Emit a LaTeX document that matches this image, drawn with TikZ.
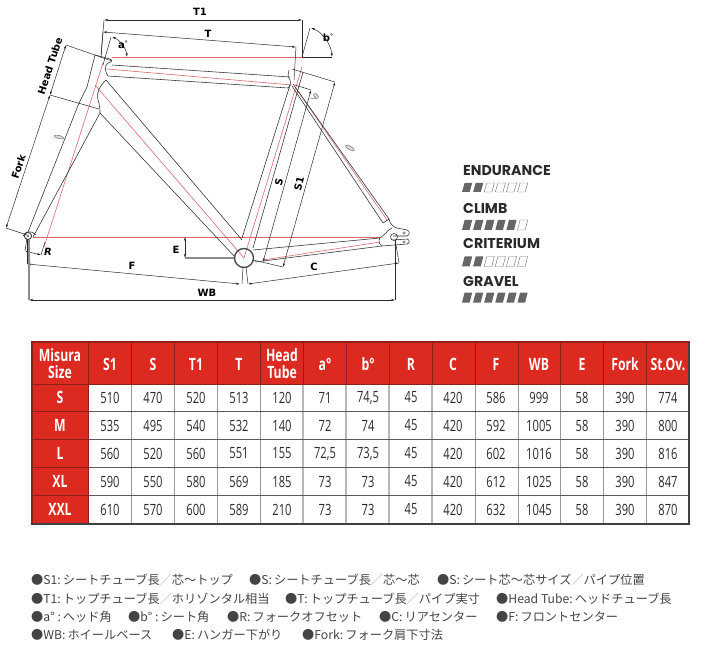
\documentclass[tikz,border=0pt]{standalone}
\usepackage{fontspec}
\setmainfont{Open Sans}
\newfontfamily\tblfont[FakeStretch=0.72]{Open Sans}
\newfontfamily\labfont{DejaVu Sans}
\newfontfamily\gaugefont{Poppins}
\newfontfamily\jpfont{Noto Sans CJK JP}
\usetikzlibrary{arrows.meta}
\definecolor{ink}{HTML}{2A2A2A}
\definecolor{redline}{HTML}{D9696B}
\definecolor{tblred}{HTML}{DC2A20}
\definecolor{tbldark}{HTML}{8E1F1A}
\definecolor{barfill}{HTML}{666666}
\definecolor{jptext}{HTML}{444444}
\tikzset{
  x=1pt,y=-1pt,
  frame/.style={draw=ink,line width=0.55pt,line join=round},
  axis/.style={draw=redline,line width=0.6pt},
  dim/.style={draw=ink,line width=0.5pt},
  arr/.style={dim,{Latex[length=3.5pt,width=2.2pt]}-{Latex[length=3.5pt,width=2.2pt]}},
  greyx/.style={draw=black!45,line width=1.1pt},
  lab/.style={font=\labfont\bfseries\fontsize{10}{11}\selectfont,inner sep=0pt,text=black},
  gauge/.style={font=\gaugefont\bfseries\fontsize{14.2}{15}\selectfont,inner sep=0pt,anchor=west,text=ink},
  hd/.style={font=\tblfont\bfseries\fontsize{17}{16.5}\selectfont,text=white,inner sep=0pt,align=center},
  cell/.style={font=\tblfont\fontsize{15.5}{16}\selectfont,text=ink,inner sep=0pt},
  jp/.style={font=\jpfont\fontsize{12.2}{13}\selectfont,text=jptext,inner sep=0pt,anchor=west},
  bolt/.style={draw=black!60,fill=black!15,line width=0.4pt},
}
\newcommand{\jsl}{\textcolor{black!30}{／}}
\newcommand{\gaugebar}[3]{% y top, y bottom, filled
  \foreach \k in {1,...,6}{
    \pgfmathsetmacro{\xa}{462+(\k-1)*11.1}
    \ifnum\k>#3\relax
      \draw[black!55,line width=0.45pt,fill=white] (\xa,#2) -- (\xa+2.6,#1) -- (\xa+10.2,#1) -- (\xa+7.6,#2) -- cycle;
    \else
      \fill[barfill] (\xa,#2) -- (\xa+2.6,#1) -- (\xa+10.2,#1) -- (\xa+7.6,#2) -- cycle;
    \fi
  }
}
\newcommand{\tablerow}[4]{% name, y, label, values
  \node[hd] (row#1) at (60,#2) {#3};
  \foreach \v [count=\c] in {#4}{
    \pgfmathsetmacro{\cx}{{110,153,196,239,282,325,368,411,453,496,539,582,625,668}[\c-1]}
    \node[cell] (r#1c\c) at (\cx,#2) {\v};
  }
}
\begin{document}
\begin{tikzpicture}
\useasboundingbox (0,0) rectangle (701,652);
% ---------- frame: centre lines
\draw[axis] (112,57) -- (302,57);
\draw[axis] (103,63) -- (44,247);
\draw[axis] (33,237) -- (380,237);
\draw[axis] (107,69) -- (292,85);
\draw[axis] (95,85) -- (244,258);
\draw[axis] (302,67) -- (244,258);
\draw[axis] (295,87) -- (387,220);
\draw[axis] (263,260) -- (380,242);
% ---------- frame: tubes
\draw[frame] (95,55) -- (87,87) -- (79,103) -- (28,232);
\draw[frame] (95,55) -- (110,59) .. controls (113,60) and (112,62) .. (108,63) .. controls (104,66) and (105,72) .. (108,76);
\draw[frame] (112,65) -- (290,77);
\draw[frame] (108,76) -- (288,88);
\draw[frame] (106,80) .. controls (100,86) and (96,92) .. (98,100) .. controls (100,106) and (100,110) .. (100,113) -- (33,237);
\draw[frame] (106,80) -- (242,240);
\draw[frame] (100,113) -- (235,257);
\draw[frame] (289,70) -- (288,76) -- (290,80) .. controls (291,84) and (290,87) .. (288,88);
\draw[frame] (290,85) -- (242,238);
\draw[frame] (303,72) -- (253,248);
\draw[frame] (293,84) -- (389,219);
\draw[frame] (292,86) -- (383,223);
\draw[frame] (383,223) -- (389,219);
\draw[frame] (253,250) -- (380,238);
\draw[frame] (255,262) -- (382,246);
% dropout
\draw[frame] (389,219) .. controls (390,224) and (393,227) .. (397,228) -- (407,230) .. controls (410,231) and (410,235) .. (407,236) -- (393,236);
\draw[frame] (393,240) -- (407,239) .. controls (410,240) and (410,243) .. (407,244) -- (382,246);
\draw[frame] (380,238) .. controls (378,241) and (379,244) .. (382,246);
\draw[frame] (380,238) -- (386,233) .. controls (388,230) and (390,229) .. (392,228);
\draw[frame] (394,237) circle (3.5);
\draw[frame,draw=black!60] (404,233) circle (1.3);
\draw[frame,draw=black!60] (404,242) circle (1.3);
% BB
\draw[greyx] (185,258) -- (234,258);
\draw[draw=black!70,line width=1.4pt] (244,258) circle (9.5);
% fork tip
\draw[draw=ink,line width=0.8pt] (28,236) circle (3.6);
\draw[frame] (23,236) .. controls (25,231) and (32,230) .. (36,235);
\draw[frame,black!60] (28,236) circle (1.2);
% bolts
\draw[bolt,rotate around={-15:(59,137)}] (59,137) ellipse (5 and 1.6);
\draw[bolt,rotate around={-45:(316,96)}] (316,96) ellipse (3 and 1.8);
\draw[frame,draw=black!55] (310,98) -- (316,99);
\draw[bolt,rotate around={-30:(350,148)}] (350,148) ellipse (5 and 1.8);
% ---------- dimensions
\coordinate (t1l) at (104,20); \coordinate (t1r) at (302,20);
\draw[arr] (t1l) -- (t1r);
\draw[dim] (t1l) -- (101,55);
\draw[dim] (t1r) -- (302,57) -- (332,57);
\coordinate (tl) at (103,32); \coordinate (tr) at (296,47);
\draw[arr] (tl) -- (tr);
\draw[dim] (tl) -- (101,58);
\draw[dim] (tr) -- (294,80);
% a angle
\draw[dim] (103,65) -- (111,37);
\draw[arr] (112,37) .. controls (120,40) and (126,48) .. (127,57);
% b angle
\draw[dim] (302,57) -- (310,28);
\draw[arr] (311,28) .. controls (322,32) and (331,44) .. (332,57);
% head tube / fork
\coordinate (ht) at (66,45); \coordinate (hb) at (50,95); \coordinate (fb) at (6,228);
\draw[arr] (ht) -- (hb);
\draw[arr] (hb) -- (fb);
\draw[dim] (ht) -- (112,61);
\draw[dim] (hb) -- (99,109);
\draw[dim] (fb) -- (27,235);
% S, S1
\coordinate (ss) at (311,90); \coordinate (sb) at (263,262);
\draw[arr] (ss) -- (sb);
\draw[dim] (295,85) -- (ss);
\coordinate (s1t) at (335,82); \coordinate (s1b) at (283,267);
\draw[arr] (s1t) -- (s1b);
\draw[dim] (292,69) -- (s1t);
\draw[dim] (253,260) -- (s1b);
% R
\coordinate (ra) at (25,251); \coordinate (rb) at (41,255);
\draw[arr] (ra) -- (rb);
\draw[dim] (ra) -- (27,238);
\draw[dim] (rb) -- (45,242);
% E
\coordinate (ea) at (185,237); \coordinate (eb) at (185,258);
\draw[arr] (ea) -- (eb);
% F, C, WB
\coordinate (fa) at (27,264); \coordinate (fz) at (240,284);
\draw[arr] (fa) -- (fz);
\draw[dim] (27,240) -- (fa);
\draw[dim] (243,267) -- (242,284);
\coordinate (ca) at (248,284); \coordinate (cz) at (399,263);
\draw[arr] (ca) -- (cz);
\draw[dim] (246,267) -- (ca);
\draw[dim] (cz) -- (396,245);
\coordinate (wa) at (29,300); \coordinate (wz) at (395,300);
\draw[arr] (wa) -- (wz);
\draw[greyx] (29,240) -- (wa);
\draw[dim] (395,240) -- (wz);
% ---------- frame labels
\node[lab] (lT1) at (200,12) {T1};
\node[lab] (lT) at (208,34) {T};
\node[lab] (la) at (123,45) {a\raisebox{3pt}{\fontsize{6}{6}\selectfont°}};
\node[lab] (lb) at (328,38) {b\raisebox{3pt}{\fontsize{6}{6}\selectfont°}};
\node[lab,rotate=72] (lHT) at (50,66) {Head Tube};
\node[lab,rotate=72] (lF) at (18.5,167) {Fork};
\node[lab,rotate=76] (lS) at (279,182) {S};
\node[lab,rotate=76] (lS1) at (299,184) {S1};
\node[lab,font=\labfont\bfseries\itshape\fontsize{10}{11}\selectfont] (lR) at (48,252) {R};
\node[lab] (lE) at (176,250) {E};
\node[lab] (lFF) at (132,266) {F};
\node[lab] (lC) at (314,267) {C};
\node[lab] (lWB) at (207,293) {WB};
% ---------- gauges
\node[gauge] (g1) at (463,171) {ENDURANCE};
\gaugebar{183}{192}{2}
\node[gauge] (g2) at (463,208) {CLIMB};
\gaugebar{220}{230}{5}
\node[gauge] (g3) at (463,244) {CRITERIUM};
\gaugebar{256.5}{266.5}{2}
\node[gauge] (g4) at (463,281) {GRAVEL};
\gaugebar{292.5}{302.5}{6}
% ---------- table
\fill[tblred] (32,342) rectangle (689,384);
\fill[tblred] (32,384) rectangle (88,524);
\foreach \xx in {303,346,389,432}{\draw[black!28,line width=1.2pt] (\xx,384) -- (\xx,524);}
\foreach \xx in {131.7,174.7,217.7,260,475,518,560,603,646}{\draw[black!40,line width=0.5pt] (\xx,384) -- (\xx,524);}
\foreach \yy in {411.5,439.5,467.5,495.5}{\draw[black!65,line width=0.5pt] (88,\yy) -- (689,\yy);}
\foreach \xx in {88,131.7,174.7,217.7,260,303,346,389,432,475,518,560,603,646}{\draw[tbldark,line width=0.6pt] (\xx,342) -- (\xx,384);}
\draw[tbldark,line width=0.6pt] (88,384) -- (88,524);
\foreach \yy in {411.5,439.5,467.5,495.5}{\draw[tbldark,line width=0.6pt] (32,\yy) -- (88,\yy);}
\draw[tbldark,line width=0.8pt] (32,384) -- (689,384);
\draw[black!75,line width=1.2pt] (32,342) -- (689,342) -- (689,524) -- (32,524) -- cycle;
\draw[tbldark,line width=1.2pt] (32,342) -- (32,524);
\draw[tbldark,line width=1.2pt] (32,342) -- (689,342);
\foreach \lbl/\cx [count=\i] in {S1/110,S/153,T1/196,T/239,a°/325,b°/368,R/411,C/453,F/496,WB/539,E/582,Fork/625,St.Ov./668}{
  \node[hd] (hd\i) at (\cx,364) {\lbl};
}
\node[hd] (hdMS) at (60,363.5) {Misura\\Size};
\node[hd] (hdHT) at (282,363.5) {Head\\Tube};
\tablerow{S}{397.5}{S}{510,470,520,513,120,71,{74,5},45,420,586,999,58,390,774}
\tablerow{M}{425.5}{M}{535,495,540,532,140,72,74,45,420,592,1005,58,390,800}
\tablerow{L}{453.5}{L}{560,520,560,551,155,{72,5},{73,5},45,420,602,1016,58,390,816}
\tablerow{XL}{481.5}{XL}{590,550,580,569,185,73,73,45,420,612,1025,58,390,847}
\tablerow{XXL}{509.5}{XXL}{610,570,600,589,210,73,73,45,420,632,1045,58,390,870}
% ---------- legend
\node[jp] (n11) at (31,580) {●S1:\,シートチューブ長\jsl 芯〜トップ};
\node[jp] (n12) at (249,580) {●S:\,シートチューブ長\jsl 芯〜芯};
\node[jp] (n13) at (437,580) {●S:\,シート芯〜芯サイズ\jsl パイプ位置};
\node[jp] (n21) at (31,599) {●T1:\,トップチューブ長\jsl ホリゾンタル相当};
\node[jp] (n22) at (285,599) {●T:\,トップチューブ長\jsl パイプ実寸};
\node[jp] (n23) at (496,599) {●Head Tube:\,ヘッドチューブ長};
\node[jp] (n31) at (31,617) {●a° :\,ヘッド角};
\node[jp] (n32) at (128,617) {●b° :\,シート角};
\node[jp] (n33) at (227,617) {●R:\,フォークオフセット};
\node[jp] (n34) at (379,617) {●C:\,リアセンター};
\node[jp] (n35) at (496,617) {●F:\,フロントセンター};
\node[jp] (n41) at (31,635) {●WB:\,ホイールベース};
\node[jp] (n42) at (172,635) {●E:\,ハンガー下がり};
\node[jp] (n43) at (302,635) {●Fork:\,フォーク肩下寸法};
\end{tikzpicture}
\end{document}
